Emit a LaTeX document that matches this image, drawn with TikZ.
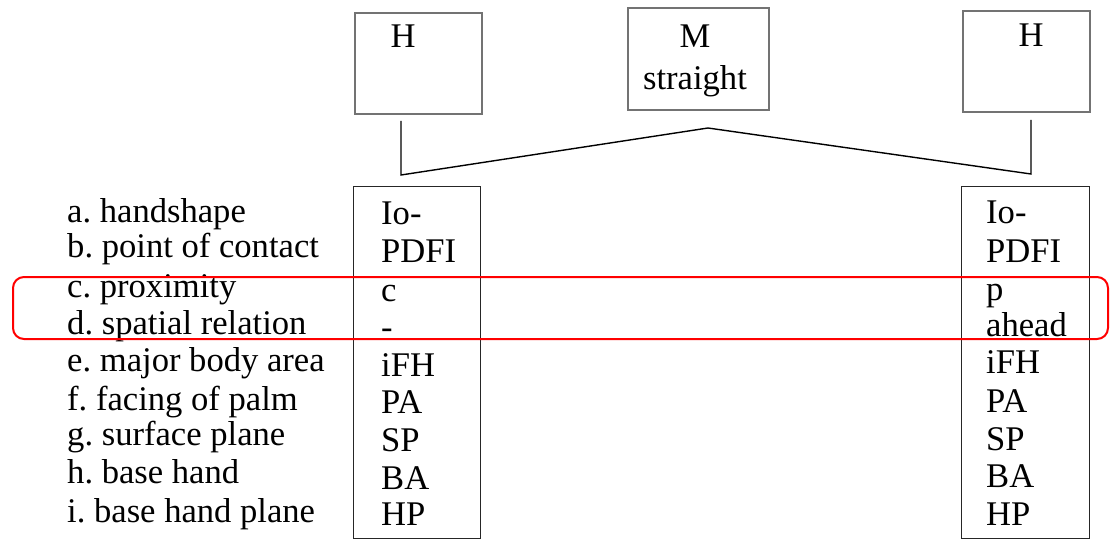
\documentclass[tikz,border=0pt]{standalone}
\usepackage{fontspec}
\setmainfont{Liberation Serif}
\frenchspacing
\begin{document}
\begin{tikzpicture}[x=1pt,y=-1pt,
  topbox/.style={draw=black!55, line width=1.6pt, anchor=north west, inner sep=0pt},
  colbox/.style={draw=black!85, line width=1.4pt, anchor=north west, inner sep=0pt},
  conn/.style={draw=black, line width=1.4pt},
  txt/.style={anchor=base west, inner sep=0pt, font=\fontsize{34.6}{40}\selectfont\frenchspacing},
  ctxt/.style={anchor=base, inner sep=0pt, font=\fontsize{34.6}{40}\selectfont},
  hilite/.style={draw=red, line width=2pt, rounded corners=11pt}]
\useasboundingbox (0,0) rectangle (1110,540);
% top boxes
\node[topbox, minimum width=127pt, minimum height=101pt] (hl) at (354,12) {};
\node[topbox, minimum width=141pt, minimum height=102pt] (m) at (627,7) {};
\node[topbox, minimum width=127pt, minimum height=101pt] (hr) at (962,10) {};
\node[ctxt] (hlt) at (403,48) {H};
\node[ctxt] (mt) at (695,48) {M};
\node[ctxt] (mt2) at (695,90) {straight};
\node[ctxt] (hrt) at (1031,47) {H};
% connector
\coordinate (c1) at (401,121);
\coordinate (c2) at (401,175);
\coordinate (c3) at (708,128);
\coordinate (c4) at (1031,174);
\coordinate (c5) at (1031,120);
\draw[conn] (c1) -- (c2) -- (c3) -- (c4) -- (c5);
% lower boxes
\node[colbox, minimum width=127pt, minimum height=352pt] (bl) at (353,186) {};
\node[colbox, minimum width=128pt, minimum height=352pt] (br) at (961,186) {};
% labels
\node[txt] (la) at (67,222) {a. handshape};
\node[txt] (lb) at (67,257) {b. point of contact};
\node[txt] (lc) at (67,297) {c. proximity};
\node[txt] (ld) at (67,334) {d. spatial relation};
\node[txt] (le) at (67,371) {e. major body area};
\node[txt] (lf) at (67,410) {f. facing of palm};
\node[txt] (lg) at (67,445) {g. surface plane};
\node[txt] (lh) at (67,483) {h. base hand};
\node[txt] (li) at (67,522) {i. base hand plane};
% left column
\node[txt] (ta) at (381,224) {Io-};
\node[txt] (tb) at (381,262) {PDFI};
\node[txt] (tc) at (381,301) {c};
\node[txt] (td) at (381,338) {-};
\node[txt] (te) at (381,376) {iFH};
\node[txt] (tf) at (381,413) {PA};
\node[txt] (tg) at (381,451) {SP};
\node[txt] (th) at (381,489) {BA};
\node[txt] (ti) at (381,525) {HP};
% right column
\node[txt] (ra) at (986,223) {Io-};
\node[txt] (rb) at (986,262) {PDFI};
\node[txt] (rc) at (986,300) {p};
\node[txt] (rd) at (986,336) {ahead};
\node[txt] (re) at (986,373) {iFH};
\node[txt] (rf) at (986,412) {PA};
\node[txt] (rg) at (986,450) {SP};
\node[txt] (rh) at (986,487) {BA};
\node[txt] (ri) at (986,525) {HP};
% highlight
\draw[hilite] (13,277) rectangle (1108,339);
\end{tikzpicture}
\end{document}
